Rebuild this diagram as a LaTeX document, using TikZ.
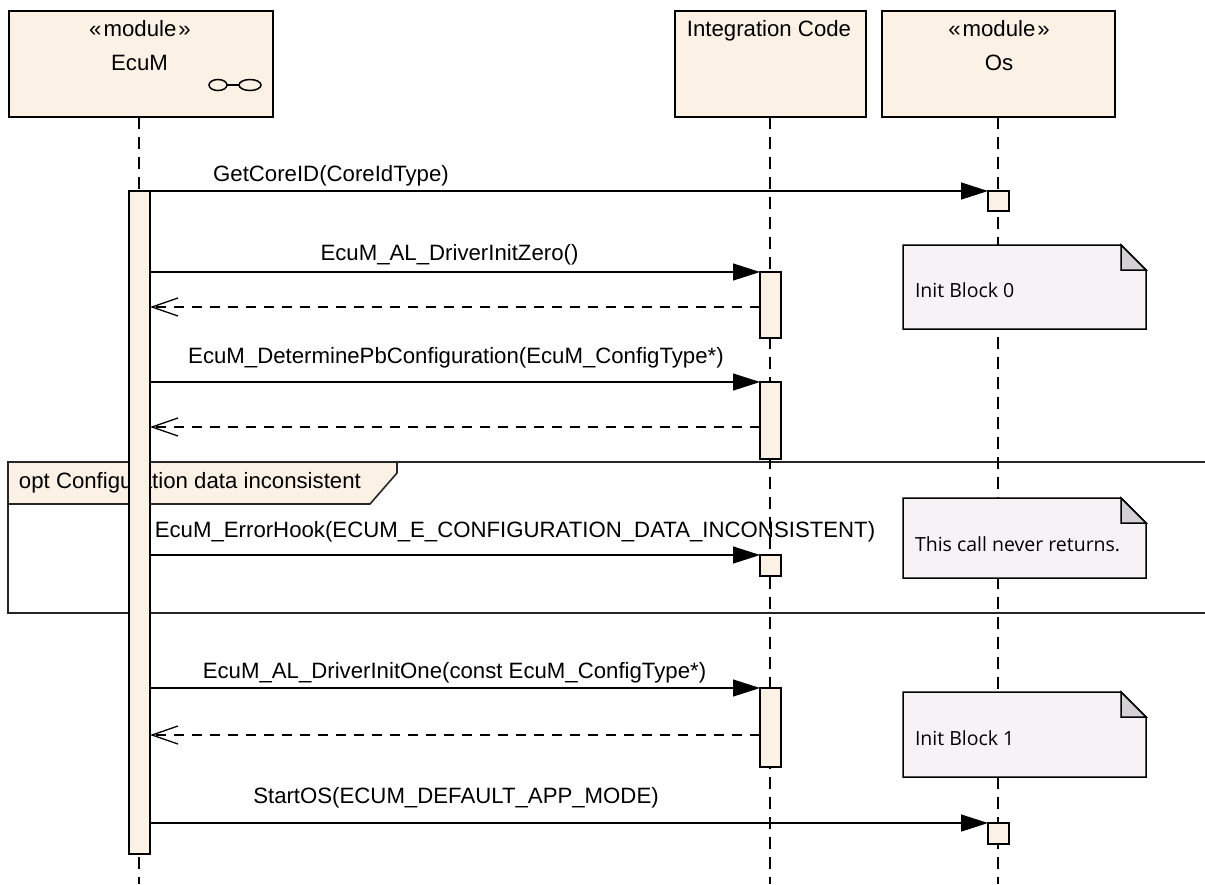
\documentclass[tikz,border=0pt]{standalone}
\usepackage{fontspec}
\setmainfont{Liberation Sans}
\newfontfamily\notefont{Open Sans}
\usetikzlibrary{arrows.meta,calc}
\definecolor{cream}{RGB}{251,241,228}
\definecolor{notecol}{RGB}{246,242,246}
\definecolor{foldcol}{RGB}{211,208,214}
\begin{document}
\begin{tikzpicture}[x=1pt,y=-1pt,
  every node/.style={inner sep=0pt,outer sep=0pt},
  txt/.style={font=\fontsize{22.2}{26}\selectfont,anchor=base},
  ntxt/.style={font=\notefont\fontsize{19.5}{23}\selectfont,anchor=base west},
  headbox/.style={draw,fill=cream,line width=1.6pt,minimum height=106pt},
  actbox/.style={draw,fill=cream,line width=1.5pt,minimum width=21pt},
  lifeline/.style={line width=1.5pt,dash pattern=on 12pt off 8pt},
  msg/.style={line width=1.3pt,-{Triangle[length=27pt,width=17pt]}},
  ret/.style={line width=1.3pt,dash pattern=on 10pt off 8pt,
     -{Straight Barb[length=26pt,width=18pt,line width=1.3pt]}},
  notebox/.style={minimum width=243pt},
  notepath/.style={draw,fill=notecol,line width=1.5pt},
  foldpath/.style={draw,fill=foldcol,line width=1.5pt,line join=miter},
  framepath/.style={draw=black!85,line width=1.6pt}]
\useasboundingbox (0,0) rectangle (1205,884);

% combined fragment frame
\path[framepath] (1215,462) -- (8,462) -- (8,613) -- (1215,613);
\path[framepath,fill=cream] (8,462) -- (397,462) -- (397,473) -- (370,504) -- (8,504) -- cycle;
\node[txt,anchor=base west] (fraglbl) at (19,488) {opt Configuration data inconsistent};

% lifeline heads
\node[headbox,minimum width=264pt] (ecum) at (141,64) {};
\node[headbox,minimum width=191pt] (intc) at (770.5,64) {};
\node[headbox,minimum width=233pt] (os) at (998.5,64) {};
\node[txt] (ecumst) at (140,36) {«\kern2pt module\kern2pt»};
\node[txt] (ecumnm) at (139.5,70) {EcuM};
\node[txt] (intcnm) at (769,36) {Integration Code};
\node[txt] (osst) at (999,36) {«\kern2pt module\kern2pt»};
\node[txt] (osnm) at (999,70) {Os};
\draw[line width=1.5pt] (218,85) ellipse [x radius=9pt,y radius=5.5pt];
\draw[line width=1.5pt] (250,85) ellipse [x radius=11pt,y radius=5.5pt];
\draw[line width=1.5pt] (227,85) -- (239,85);

% lifeline ends
\coordinate (ecuend) at (139,884);
\coordinate (intend) at (770,884);
\coordinate (osend) at (998,884);
\coordinate (ecutop) at (139,117);
\coordinate (inttop) at (770,117);
\coordinate (ostop) at (998,117);
\draw[lifeline] (ecutop) -- (ecuend);
\draw[lifeline] (inttop) -- (intend);
\draw[lifeline] (ostop) -- (osend);

% notes
\node[notebox,minimum height=84pt] (n1) at (1024.5,287) {};
\node[notebox,minimum height=80pt] (n2) at (1024.5,538) {};
\node[notebox,minimum height=85pt] (n3) at (1024.5,734.5) {};
\foreach \n in {n1,n2,n3}{
  \path[notepath] (\n.south west) -- (\n.north west) -- ([xshift=-25pt]\n.north east)
     -- ([yshift=-25pt]\n.north east) -- (\n.south east) -- cycle;
  \path[foldpath] ([xshift=-25pt]\n.north east) -- ([xshift=-25pt,yshift=-25pt]\n.north east)
     -- ([yshift=-25pt]\n.north east) -- cycle;
}
\node[ntxt] (n1t) at (915,297) {Init Block 0};
\node[ntxt] (n2t) at (915,551) {This call never returns.};
\node[ntxt] (n3t) at (915,745) {Init Block 1};

% activations
\node[actbox,minimum height=663pt] (ecua) at (139.5,522.5) {};
\node[actbox,minimum height=20pt] (osa1) at (998.5,201) {};
\node[actbox,minimum height=66pt] (ia1) at (770.5,305) {};
\node[actbox,minimum height=77pt] (ia2) at (770.5,420.5) {};
\node[actbox,minimum height=21pt] (ia3) at (770.5,565.5) {};
\node[actbox,minimum height=79pt] (ia4) at (770.5,727.5) {};
\node[actbox,minimum height=21pt] (osa2) at (998.5,833.5) {};

% messages
\draw[msg] (ecua.east |- osa1.north) -- (osa1.north west);
\draw[msg] (ecua.east |- ia1.north) -- (ia1.north west);
\draw[msg] (ecua.east |- ia2.north) -- (ia2.north west);
\draw[msg] (ecua.east |- ia3.north) -- (ia3.north west);
\draw[msg] (ecua.east |- ia4.north) -- (ia4.north west);
\draw[msg] (ecua.east |- osa2.north) -- (osa2.north west);

% returns
\coordinate (r1) at (760,307);
\coordinate (r2) at (760,427);
\coordinate (r4) at (760,735);
\draw[ret] (r1) -- (ecua.east |- r1);
\draw[ret] (r2) -- (ecua.east |- r2);
\draw[ret] (r4) -- (ecua.east |- r4);

% message labels
\node[txt] (m1) at (331,181) {GetCoreID(CoreIdType)};
\node[txt] (m2) at (449.5,260) {EcuM\_AL\_DriverInitZero()};
\node[txt] (m3) at (456,363) {EcuM\_DeterminePbConfiguration(EcuM\_ConfigType*)};
\node[txt] (m4) at (515,537) {EcuM\_ErrorHook(ECUM\_E\_CONFIGURATION\_DATA\_INCONSISTENT)};
\node[txt] (m5) at (454.5,678) {EcuM\_AL\_DriverInitOne(const EcuM\_ConfigType*)};
\node[txt] (m6) at (456,803) {StartOS(ECUM\_DEFAULT\_APP\_MODE)};
\end{tikzpicture}
\end{document}
